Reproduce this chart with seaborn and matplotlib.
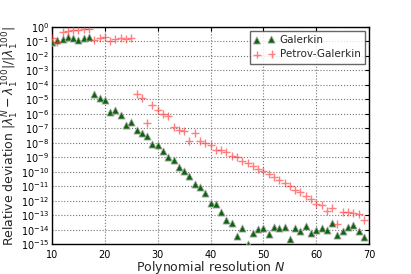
import matplotlib
matplotlib.use("Agg")
import matplotlib.pyplot as plt
import numpy as np
import pandas as pd
import seaborn as sns

# log10 of relative deviation
galerkin_n = list(range(10, 70))
galerkin_log = [
    -1.07, -0.93, -0.84, -0.73, -0.80, -0.89, -0.80, -0.70,
    -4.66, -4.93, -5.07, -5.86, -5.70, -6.07, -6.80, -6.57,
    -7.14, -7.34, -7.52, -8.07, -8.16, -8.57, -8.98, -9.20,
    -9.66, -9.95, -10.30, -10.84, -11.07, -11.47, -12.13, -12.20,
    -12.80, -13.30, -13.50, -14.40, -13.90, -14.98, -14.20, -13.93,
    -13.84, -14.30, -13.80, -13.84, -13.80, -14.60, -13.84, -14.10,
    -13.75, -14.18, -14.00, -13.90, -14.00, -13.54, -14.34, -14.06,
    -13.80, -13.65, -14.10, -14.50,
]

petrov_n = list(range(10, 70))
petrov_log = [
    -0.77, -1.04, -0.36, -0.27, -0.23, -0.22, -0.16, -0.16,
    -0.93, -0.80, -0.70, -0.98, -0.84, -0.77, -0.84, -0.75,
    -4.61, -4.90, -6.60, -5.42, -5.73, -6.03, -6.12, -6.89,
    -7.12, -7.20, -7.84, -7.32, -7.84, -8.00, -8.13, -8.48,
    -8.48, -8.60, -8.93, -8.99, -9.22, -9.38, -9.56, -9.77,
    -9.97, -10.16, -10.36, -10.57, -10.76, -10.98, -11.22, -11.40,
    -11.63, -11.84, -12.18, -12.25, -12.70, -12.52, -13.60, -12.77,
    -12.80, -12.86, -12.88, -13.34,
]

x_ticks = [10, 20, 30, 40, 50, 60, 70]
y_exponents = list(range(-15, 1))

galerkin = pd.DataFrame({"N": galerkin_n, "dev": np.power(10.0, galerkin_log)})
petrov = pd.DataFrame({"N": petrov_n, "dev": np.power(10.0, petrov_log)})

sns.set_style("white")
plt.rcParams["font.family"] = ["DejaVu Sans"]
plt.rcParams["mathtext.fontset"] = "dejavusans"

fig = plt.figure(figsize=(4.11, 2.74), dpi=100)
ax = fig.add_axes([0.1265, 0.108, 0.7715, 0.794])

sns.scatterplot(data=galerkin, x="N", y="dev", marker="^", s=26,
                color="#0b650b", edgecolor="0.65", linewidth=0.6,
                label="Galerkin", ax=ax, zorder=3)
sns.scatterplot(data=petrov, x="N", y="dev", marker="+", s=30,
                color="#ff2a2a", alpha=0.6, linewidth=1.0,
                label="Petrov-Galerkin", ax=ax, zorder=3)

ax.set_yscale("log")
ax.set_xlim(10, 70)
ax.set_ylim(1e-15, 1)
ax.set_xticks(x_ticks)
ax.set_xticklabels([str(t) for t in x_ticks], fontsize=7)
ax.set_yticks([10.0 ** e for e in y_exponents])
ax.set_yticklabels([f"$10^{{{e}}}$" for e in y_exponents], fontsize=7)
ax.minorticks_off()
ax.tick_params(direction="in", length=3, width=0.8, top=True, right=True,
               pad=2, colors="black")
ax.tick_params(axis="x", pad=4)
ax.grid(True, color="0.45", linestyle=":", linewidth=0.8)
for sp in ax.spines.values():
    sp.set_color("black")
    sp.set_linewidth(1.0)

ax.set_xlabel("Polynomial resolution $N$", fontsize=9, labelpad=-1)
ax.set_ylabel(r"Relative deviation $|\lambda_1^N - \lambda_1^{100}|/|\lambda_1^{100}|$",
              fontsize=9, labelpad=0)

leg = ax.legend(loc="upper right", scatterpoints=2, fontsize=7.5,
                frameon=True, fancybox=False, borderaxespad=0.4,
                handletextpad=0.5, borderpad=0.4, labelspacing=0.4)
leg.get_frame().set_edgecolor("0.25")
leg.get_frame().set_linewidth(1.0)

fig.savefig("out.png", dpi=100)
